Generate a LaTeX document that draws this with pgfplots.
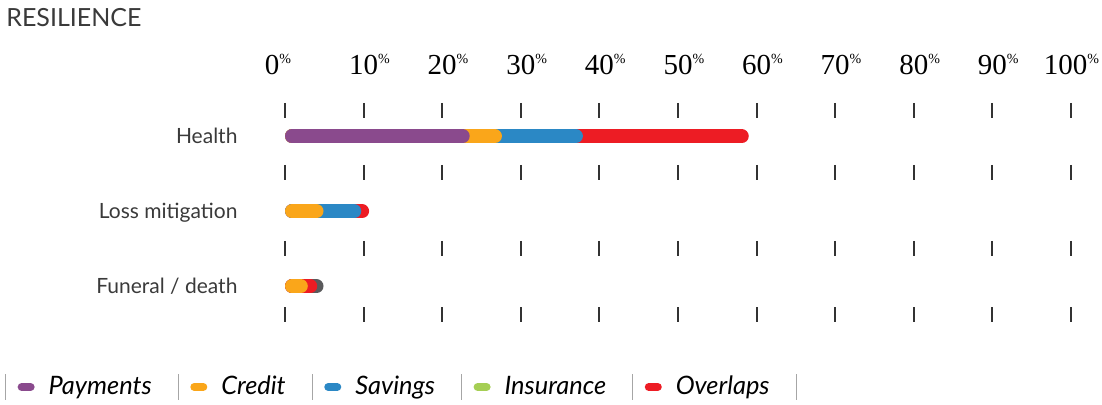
\documentclass[border=0pt]{standalone}
\usepackage{fontspec}
\setmainfont{Lato}
\newfontfamily\numfont{Liberation Serif}
\usepackage{pgfplots}
\pgfplotsset{compat=1.18}
\definecolor{cPay}{HTML}{8A4A8D}
\definecolor{cCred}{HTML}{FAA61A}
\definecolor{cSav}{HTML}{2B88C5}
\definecolor{cIns}{HTML}{A5CE54}
\definecolor{cOver}{HTML}{ED1C24}
\definecolor{cOther}{HTML}{5A5A5C}
\definecolor{txt}{HTML}{3A3A3A}
\pgfplotsset{
  seg/.style={forget plot, no markers, draw=#1, line width=7pt, line cap=round, shorten <=3.5pt, shorten >=3.5pt},
  tickrow/.style={forget plot, only marks, mark=|, mark size=3.75pt, mark options={line width=1pt, draw=black!80}},
  pill/.style={legend image code/.code={
      \draw[black!35, line width=0.6pt] (-6pt,-6.5pt) -- (-6pt,6.5pt);
      \draw[#1, line width=4pt, line cap=round] (2pt,0pt) -- (6.5pt,0pt);}},
}
\tikzset{ticklab/.style={anchor=base, inner sep=0pt, font=\numfont\fontsize{14.5}{15}\selectfont}}
\newcommand{\pct}{\rlap{\raisebox{0.8ex}{\fontsize{7}{7}\selectfont\%}}}
\begin{document}
\begin{tikzpicture}
\useasboundingbox (0,0) rectangle (551pt,202.5pt);
\begin{axis}[at={(0,0)}, anchor=south west, width=551pt, height=202.5pt, scale only axis,
  xmin=-36.26, xmax=103.94, ymin=-0.583, ymax=4.817, hide axis, clip=false,
  legend columns=6,
  legend style={at={(axis cs:-35.62,-0.343)}, anchor=west, draw=none, fill=none,
    inner sep=0pt, outer sep=0pt, font=\fontsize{12.7}{14}\selectfont\itshape,
    /tikz/every odd column/.append style={column sep=5pt},
    /tikz/every even column/.append style={column sep=11pt}}]

% tick rows
\addplot[tickrow] coordinates {(0,3.344) (10,3.344) (20,3.344) (30,3.344) (40,3.344) (50,3.344) (60,3.344) (70,3.344) (80,3.344) (90,3.344) (100,3.344)};
\addplot[tickrow] coordinates {(0,2.517) (10,2.517) (20,2.517) (30,2.517) (40,2.517) (50,2.517) (60,2.517) (70,2.517) (80,2.517) (90,2.517) (100,2.517)};
\addplot[tickrow] coordinates {(0,1.504) (10,1.504) (20,1.504) (30,1.504) (40,1.504) (50,1.504) (60,1.504) (70,1.504) (80,1.504) (90,1.504) (100,1.504)};
\addplot[tickrow] coordinates {(0,0.617) (10,0.617) (20,0.617) (30,0.617) (40,0.617) (50,0.617) (60,0.617) (70,0.617) (80,0.617) (90,0.617) (100,0.617)};

% Health (cumulative ends)
\addplot[seg=cOver] coordinates {(0,3) (59.0,3)};
\addplot[seg=cSav]  coordinates {(0,3) (37.9,3)};
\addplot[seg=cCred] coordinates {(0,3) (27.6,3)};
\addplot[seg=cPay]  coordinates {(0,3) (23.5,3)};
% Loss mitigation
\addplot[seg=cOver] coordinates {(0,2) (10.7,2)};
\addplot[seg=cSav]  coordinates {(0,2) (9.7,2)};
\addplot[seg=cCred] coordinates {(0,2) (4.9,2)};
% Funeral / death
\addplot[seg=cOther] coordinates {(0,1) (4.9,1)};
\addplot[seg=cOver]  coordinates {(0,1) (4.1,1)};
\addplot[seg=cCred]  coordinates {(0,1) (2.9,1)};

% tick labels
\node[ticklab] at (axis cs:-1.65,3.83) {0\pct};
\pgfplotsinvokeforeach{10,20,30,40,50,60,70,80,90}{
  \node[ticklab] at (axis cs:#1,3.83) {#1\pct};
}
\node[ticklab] at (axis cs:99.3,3.83) {100\pct};

% category labels
\node[anchor=base east, inner sep=0pt, text=txt, font=\fontsize{10.5}{12}\selectfont] at (axis cs:-6,3) [yshift=-3.8pt] {Health};
\node[anchor=base east, inner sep=0pt, text=txt, font=\fontsize{10.5}{12}\selectfont] at (axis cs:-6,2) [yshift=-3.8pt] {Loss mitigation};
\node[anchor=base east, inner sep=0pt, text=txt, font=\fontsize{10.5}{12}\selectfont] at (axis cs:-6,1) [yshift=-3.8pt] {Funeral / death};

% title
\node[anchor=base west, inner sep=0pt, text=txt, font=\fontsize{12.5}{14}\selectfont] at (axis cs:-35.5,4.47) {RESILIENCE};

% legend
\addlegendimage{pill=cPay}\addlegendentry{Payments}
\addlegendimage{pill=cCred}\addlegendentry{Credit}
\addlegendimage{pill=cSav}\addlegendentry{Savings}
\addlegendimage{pill=cIns}\addlegendentry{Insurance}
\addlegendimage{pill=cOver}\addlegendentry{Overlaps}
\addlegendimage{legend image code/.code={\draw[black!35, line width=0.6pt] (-6pt,-6.5pt) -- (-6pt,6.5pt);}}\addlegendentry{}
\end{axis}
\end{tikzpicture}
\end{document}
